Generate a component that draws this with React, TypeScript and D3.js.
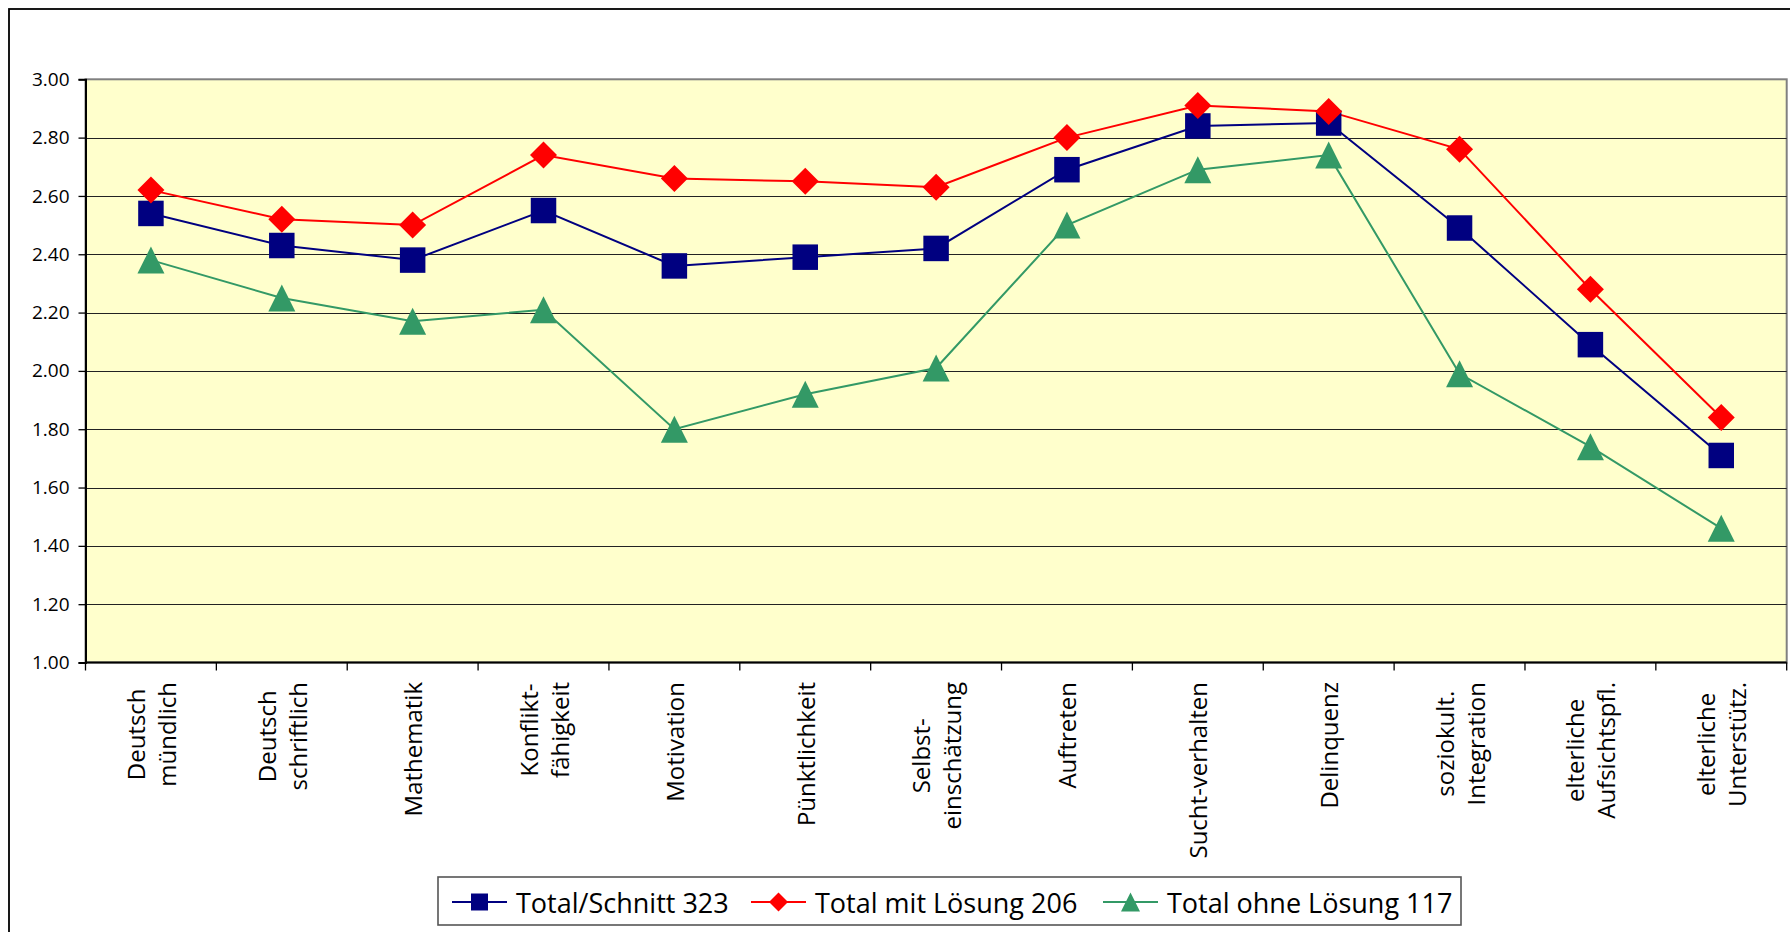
import React, { useEffect, useRef } from "react";
import * as d3 from "d3";

const categories: string[] = [
  "Deutsch\nmündlich",
  "Deutsch\nschriftlich",
  "Mathematik",
  "Konflikt-\nfähigkeit",
  "Motivation",
  "Pünktlichkeit",
  "Selbst-\neinschätzung",
  "Auftreten",
  "Sucht-verhalten",
  "Delinquenz",
  "soziokult.\nIntegration",
  "elterliche\nAufsichtspfl.",
  "elterliche\nUnterstütz.",
];

const totalSchnitt: number[] = [2.54, 2.43, 2.38, 2.55, 2.36, 2.39, 2.42, 2.69, 2.84, 2.85, 2.49, 2.09, 1.71];
const totalMitLoesung: number[] = [2.62, 2.52, 2.5, 2.74, 2.66, 2.65, 2.63, 2.8, 2.91, 2.89, 2.76, 2.28, 1.84];
const totalOhneLoesung: number[] = [2.38, 2.25, 2.17, 2.21, 1.8, 1.92, 2.01, 2.5, 2.69, 2.74, 1.99, 1.74, 1.46];

const seriesNames: string[] = ["Total/Schnitt 323", "Total mit Lösung 206", "Total ohne Lösung 117"];
const yTicks: number[] = [1.0, 1.2, 1.4, 1.6, 1.8, 2.0, 2.2, 2.4, 2.6, 2.8, 3.0];

const W = 1790;
const H = 932;
const FONT = "'Open Sans', 'Noto Sans', sans-serif";

export default function App() {
  const ref = useRef<SVGSVGElement | null>(null);

  useEffect(() => {
    const svg = d3.select(ref.current);
    svg.selectAll("*").remove();

    const left = 85.5, right = 1786.7, top = 79.3, bottom = 662.5;

    // outer frame
    svg.append("rect").attr("x", 9).attr("y", 9).attr("width", 1800).attr("height", 1000)
      .attr("fill", "#fff").attr("stroke", "#000").attr("stroke-width", 1.8);

    const x = d3.scaleBand<string>().domain(categories).range([left, right]).padding(0);
    const y = d3.scaleLinear().domain([1, 3]).range([bottom, top]);

    // plot bg
    svg.append("rect").attr("x", left).attr("y", top).attr("width", right - left).attr("height", bottom - top)
      .attr("fill", "#FFFFCC").attr("stroke", "#808080").attr("stroke-width", 2);

    // gridlines
    svg.append("g").selectAll("line").data(yTicks.filter((t) => t > 1 && t < 3)).join("line")
      .attr("x1", left).attr("x2", right)
      .attr("y1", (d) => Math.round(y(d)) + 0.5).attr("y2", (d) => Math.round(y(d)) + 0.5)
      .attr("stroke", "#222").attr("stroke-width", 1.2);

    // y axis
    const yAxis = d3.axisLeft(y).tickValues(yTicks).tickFormat((d) => d3.format(".2f")(d as number))
      .tickSize(7).tickPadding(9);
    const gy = svg.append("g").attr("transform", `translate(${left},0)`).call(yAxis);
    gy.select(".domain").attr("stroke", "#000").attr("stroke-width", 2);
    gy.selectAll(".tick line").attr("stroke", "#000").attr("stroke-width", 1.3);
    gy.selectAll(".tick text").attr("font-family", FONT).attr("font-size", 19).attr("fill", "#000");

    // x axis line and ticks at boundaries
    svg.append("line").attr("x1", left).attr("x2", right).attr("y1", bottom).attr("y2", bottom)
      .attr("stroke", "#000").attr("stroke-width", 2);
    const boundaries = categories.map((c) => x(c) as number).concat([right]);
    svg.append("g").selectAll("line").data(boundaries).join("line")
      .attr("x1", (d) => d).attr("x2", (d) => d).attr("y1", bottom).attr("y2", bottom + 8)
      .attr("stroke", "#000").attr("stroke-width", 1.3);

    // x labels
    const fs = 24, lh = 31;
    categories.forEach((c) => {
      const lines = c.split("\n");
      const cx = (x(c) as number) + x.bandwidth() / 2;
      const g = svg.append("g").attr("transform", `translate(${cx},682) rotate(-90)`);
      const texts = lines.map((ln, i) =>
        g.append("text").text(ln).attr("font-family", FONT).attr("font-size", fs)
          .attr("text-anchor", "middle").attr("dominant-baseline", "central")
          .attr("y", (i - (lines.length - 1) / 2) * lh).attr("fill", "#000"));
      const maxW = d3.max(texts, (t) => (t.node() as SVGTextElement).getComputedTextLength()) || 0;
      texts.forEach((t) => t.attr("x", -maxW / 2));
    });

    // series
    const series = [
      { name: seriesNames[0], values: totalSchnitt, color: "#000080", shape: "square" },
      { name: seriesNames[1], values: totalMitLoesung, color: "#FF0000", shape: "diamond" },
      { name: seriesNames[2], values: totalOhneLoesung, color: "#339966", shape: "triangle" },
    ];

    const markerPath = (shape: string, s: number) => {
      if (shape === "square") return `M${-s / 2},${-s / 2}h${s}v${s}h${-s}Z`;
      if (shape === "diamond") return `M0,${-s / 2}L${s / 2},0L0,${s / 2}L${-s / 2},0Z`;
      return `M0,${-s / 2}L${s / 2},${s / 2}L${-s / 2},${s / 2}Z`;
    };

    const line = d3.line<number>()
      .x((_, i) => (x(categories[i]) as number) + x.bandwidth() / 2)
      .y((d) => y(d));

    series.forEach((s) => {
      svg.append("path").attr("d", line(s.values) as string).attr("fill", "none")
        .attr("stroke", s.color).attr("stroke-width", 2);
    });
    series.forEach((s) => {
      const size = s.shape === "square" ? 25.5 : 27;
      svg.append("g").selectAll("path").data(s.values).join("path")
        .attr("transform", (d, i) => `translate(${(x(categories[i]) as number) + x.bandwidth() / 2},${y(d)})`)
        .attr("d", markerPath(s.shape, size)).attr("fill", s.color);
    });

    // legend
    const lg = svg.append("g");
    lg.append("rect").attr("x", 438).attr("y", 877).attr("width", 1023).attr("height", 48)
      .attr("fill", "#fff").attr("stroke", "#555").attr("stroke-width", 1.6);
    const legendX = [452, 751, 1103];
    series.forEach((s, i) => {
      const lx = legendX[i];
      const cy = 902;
      lg.append("line").attr("x1", lx).attr("x2", lx + 55).attr("y1", cy).attr("y2", cy)
        .attr("stroke", s.color).attr("stroke-width", 2);
      lg.append("path").attr("transform", `translate(${lx + 27.5},${cy})`)
        .attr("d", markerPath(s.shape, s.shape === "square" ? 17 : 19)).attr("fill", s.color);
      lg.append("text").text(s.name).attr("x", lx + 64).attr("y", cy)
        .attr("dominant-baseline", "central").attr("font-family", FONT).attr("font-size", 27).attr("fill", "#000");
    });
  }, []);

  return (
    <svg ref={ref} width={W} height={H}
      style={{ position: "absolute", left: 0, top: 0, display: "block", background: "#fff" }} />
  );
}
